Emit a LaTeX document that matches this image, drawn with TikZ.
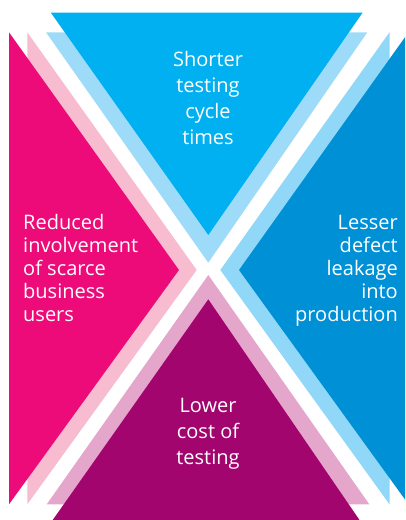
\documentclass[tikz,border=0pt]{standalone}
\usepackage{fontspec}
\setmainfont{Open Sans}
\definecolor{cyanA}{RGB}{0,176,240}
\definecolor{cyanL}{RGB}{158,219,249}
\definecolor{blueA}{RGB}{0,144,214}
\definecolor{blueL}{RGB}{145,215,247}
\definecolor{magA}{RGB}{237,11,121}
\definecolor{magL}{RGB}{247,188,208}
\definecolor{purA}{RGB}{163,5,111}
\definecolor{purL}{RGB}{229,166,204}
\tikzset{
  lbl/.style={text=white, inner sep=0pt, font=\fontsize{20}{24}\selectfont},
}
\begin{document}
\begin{tikzpicture}[x=1pt,y=-1pt]
\useasboundingbox (0,0) rectangle (405,520);
\clip (0,0) rectangle (405,520);
% light bands
\fill[cyanL] (46,32.3) -- (367.3,32.3) -- (208.3,262.7) -- cycle;
\fill[magL] (27.3,32.3) -- (27.3,504.3) -- (196.7,270) -- cycle;
\fill[blueL] (389.5,32.3) -- (389.5,504.3) -- (220.3,270) -- cycle;
\fill[purL] (46.7,504.3) -- (369.3,504.3) -- (208.3,275) -- cycle;
% main triangles
\fill[cyanA] (50.7,12.5) -- (362.7,12.5) -- (208.3,235) -- cycle;
\fill[magA] (9,32.3) -- (9,504.3) -- (179,270) -- cycle;
\fill[blueA] (408.5,32.3) -- (408.5,504.3) -- (239,270) -- cycle;
\fill[purA] (52.7,520) -- (359.5,520) -- (208.3,299.3) -- cycle;
% top text
\node[lbl, anchor=base] (t1) at (208,66) {Shorter};
\node[lbl, anchor=base] (t2) at (208,92) {testing};
\node[lbl, anchor=base] (t3) at (208,118) {cycle};
\node[lbl, anchor=base] (t4) at (208,144) {times};
% left text
\node[lbl, anchor=base west] (l1) at (23,229.5) {Reduced};
\node[lbl, anchor=base west] (l2) at (23,252.6) {involvement};
\node[lbl, anchor=base west] (l3) at (23,275.7) {of scarce};
\node[lbl, anchor=base west] (l4) at (23,298.8) {business};
\node[lbl, anchor=base west] (l5) at (23,321.9) {users};
% right text
\node[lbl, anchor=base east] (r1) at (398,229.5) {Lesser};
\node[lbl, anchor=base east] (r2) at (398,252.6) {defect};
\node[lbl, anchor=base east] (r3) at (398,275.7) {leakage};
\node[lbl, anchor=base east] (r4) at (398,298.8) {into};
\node[lbl, anchor=base east] (r5) at (398,321.9) {production};
% bottom text
\node[lbl, anchor=base] (b1) at (208,412) {Lower};
\node[lbl, anchor=base] (b2) at (208,438) {cost of};
\node[lbl, anchor=base] (b3) at (208,464) {testing};
\end{tikzpicture}
\end{document}
